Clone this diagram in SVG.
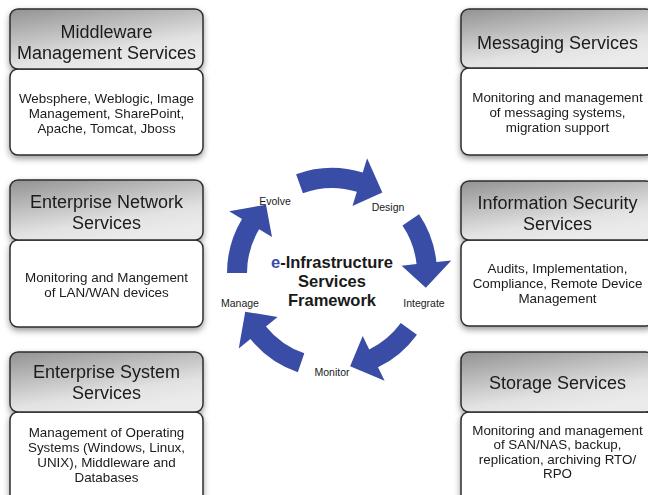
<svg xmlns="http://www.w3.org/2000/svg" width="648" height="495" viewBox="0 0 648 495">
<defs>
<linearGradient id="hg" x1="0" y1="0" x2="0.5" y2="1">
<stop offset="0" stop-color="#929292"/>
<stop offset="0.75" stop-color="#e2e2e2"/>
<stop offset="1" stop-color="#ebebeb"/>
</linearGradient>
<filter id="sh" x="-10%" y="-10%" width="120%" height="130%">
<feDropShadow dx="0" dy="3" stdDeviation="3" flood-color="#000" flood-opacity="0.4"/>
</filter>
</defs>
<style>
.hd{fill:url(#hg);stroke:#2e2e2e;stroke-width:1.5}
.bd{fill:#fff;stroke:#2e2e2e;stroke-width:1.5}
.t{font-family:"Liberation Sans",Arial,sans-serif;font-size:18px;fill:#1a1a1a;text-anchor:middle}
.b{font-family:"Liberation Sans",Arial,sans-serif;font-size:13.4px;fill:#1a1a1a;text-anchor:middle}
.l{font-family:"Liberation Sans",Arial,sans-serif;font-size:10.5px;fill:#1a1a1a;text-anchor:middle}
.c{font-family:"Liberation Sans",Arial,sans-serif;font-size:16.5px;font-weight:bold;fill:#1a1a1a;text-anchor:middle}
.ar{fill:#3a4da6}
</style>
<rect width="648" height="495" fill="#fff"/>

<g id="middleware" filter="url(#sh)">
<rect class="bd" x="10" y="69" width="193" height="86" rx="8"/>
<rect class="hd" x="10" y="9" width="193" height="60" rx="8"/>
<text class="t" x="106.5" y="38">Middleware</text>
<text class="t" x="106.5" y="59">Management Services</text>
<text class="b" x="106.5" y="103">Websphere, Weblogic, Image</text>
<text class="b" x="106.5" y="118">Management, SharePoint,</text>
<text class="b" x="106.5" y="133">Apache, Tomcat, Jboss</text>
</g>

<g id="network" filter="url(#sh)">
<rect class="bd" x="10" y="240" width="193" height="87" rx="8"/>
<rect class="hd" x="10" y="180" width="193" height="60" rx="8"/>
<text class="t" x="106.5" y="208">Enterprise Network</text>
<text class="t" x="106.5" y="229">Services</text>
<text class="b" x="106.5" y="282">Monitoring and Mangement</text>
<text class="b" x="106.5" y="297">of LAN/WAN devices</text>
</g>

<g id="system" filter="url(#sh)">
<rect class="bd" x="10" y="412" width="193" height="92" rx="8"/>
<rect class="hd" x="10" y="352" width="193" height="60" rx="8"/>
<text class="t" x="106.5" y="378">Enterprise System</text>
<text class="t" x="106.5" y="399">Services</text>
<text class="b" x="106.5" y="437">Management of Operating</text>
<text class="b" x="106.5" y="452">Systems (Windows, Linux,</text>
<text class="b" x="106.5" y="467">UNIX), Middleware and</text>
<text class="b" x="106.5" y="482">Databases</text>
</g>

<g id="messaging" filter="url(#sh)">
<rect class="bd" x="461" y="68" width="193" height="87" rx="8"/>
<rect class="hd" x="461" y="9" width="193" height="59" rx="8"/>
<text class="t" x="557.5" y="49">Messaging Services</text>
<text class="b" x="557.5" y="102">Monitoring and management</text>
<text class="b" x="557.5" y="117">of messaging systems,</text>
<text class="b" x="557.5" y="132">migration support</text>
</g>

<g id="security" filter="url(#sh)">
<rect class="bd" x="461" y="240" width="193" height="86" rx="8"/>
<rect class="hd" x="461" y="181" width="193" height="59" rx="8"/>
<text class="t" x="557.5" y="209">Information Security</text>
<text class="t" x="557.5" y="230">Services</text>
<text class="b" x="557.5" y="273">Audits, Implementation,</text>
<text class="b" x="557.5" y="288">Compliance, Remote Device</text>
<text class="b" x="557.5" y="303">Management</text>
</g>

<g id="storage" filter="url(#sh)">
<rect class="bd" x="461" y="412" width="193" height="92" rx="8"/>
<rect class="hd" x="461" y="352" width="193" height="60" rx="8"/>
<text class="t" x="557.5" y="389">Storage Services</text>
<text class="b" x="557.5" y="435">Monitoring and management</text>
<text class="b" x="557.5" y="449">of SAN/NAS, backup,</text>
<text class="b" x="557.5" y="464">replication, archiving RTO/</text>
<text class="b" x="557.5" y="478">RPO</text>
</g>

<g id="connectors">
<path class="ar" d="M296.09,174.33 A105,105 0 0 1 362.70,172.59 L367.09,158.24 L382.34,192.44 L352.47,206.06 L356.85,191.71 A85,85 0 0 0 302.93,193.13 Z"/>
<path class="ar" d="M419.05,214.28 A105,105 0 0 1 436.42,262.03 L451.34,260.46 L425.83,287.86 L401.62,265.69 L416.53,264.12 A85,85 0 0 0 402.47,225.47 Z"/>
<path class="ar" d="M416.95,334.72 A105,105 0 0 1 378.03,367.37 L384.61,380.86 L350.13,366.25 L362.69,335.92 L369.26,349.40 A85,85 0 0 0 400.77,322.96 Z"/>
<path class="ar" d="M297.81,372.28 A105,105 0 0 1 250.40,339.08 L238.75,348.52 L245.22,311.64 L277.60,317.05 L265.95,326.49 A85,85 0 0 0 304.32,353.37 Z"/>
<path class="ar" d="M227,273 A105,105 0 0 1 242.0,218.92 L229.14,211.2 L266.0,204.67 L272.0,236.95 L259.14,229.22 A85,85 0 0 0 247,273 Z"/>
</g>

<g id="labels">
<text class="l" x="275" y="205">Evolve</text>
<text class="l" x="388" y="211">Design</text>
<text class="l" x="424" y="307">Integrate</text>
<text class="l" x="332" y="376">Monitor</text>
<text class="l" x="240" y="307">Manage</text>
</g>

<g id="center">
<text class="c" x="332" y="268"><tspan fill="#3a4da6">e</tspan>-Infrastructure</text>
<text class="c" x="332" y="287">Services</text>
<text class="c" x="332" y="306">Framework</text>
</g>
</svg>
